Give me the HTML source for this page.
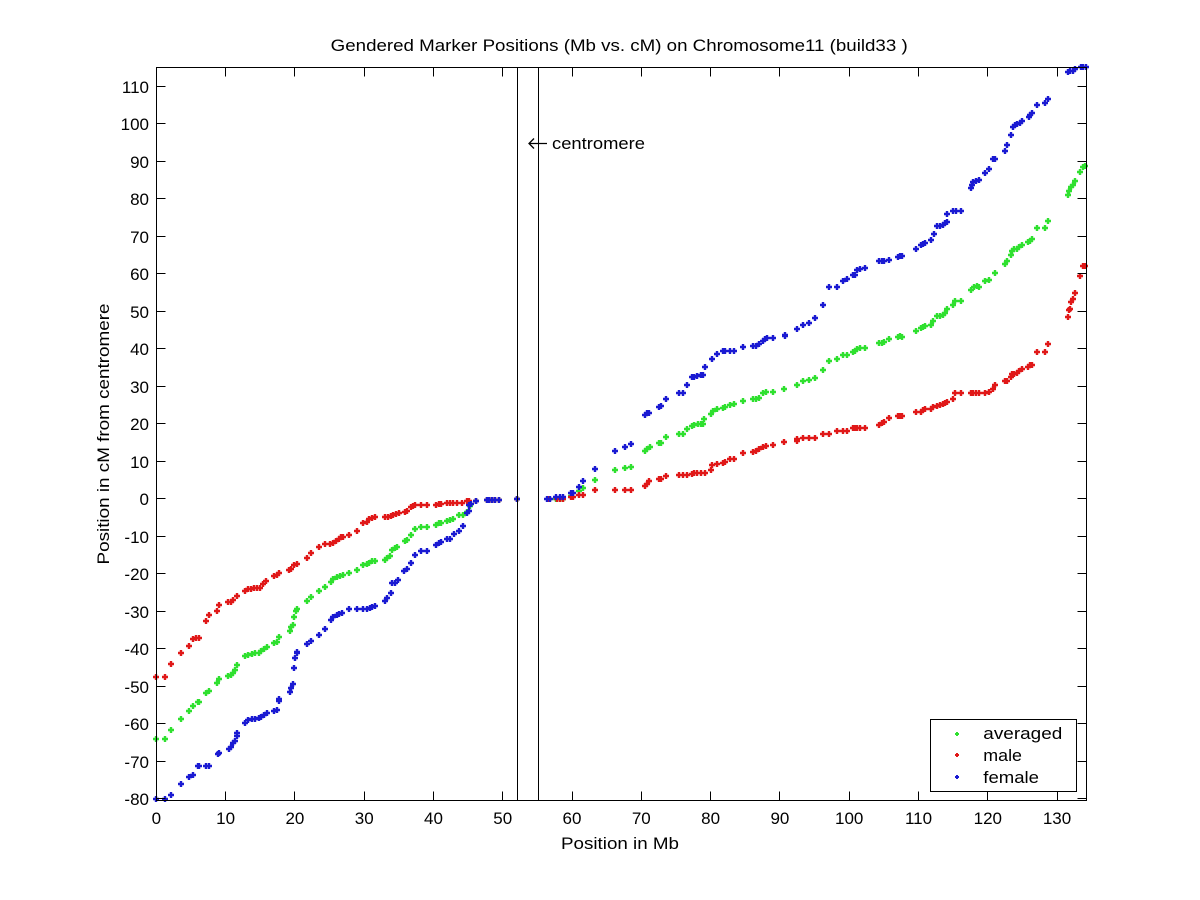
<!DOCTYPE html>
<html><head><meta charset="utf-8"><style>
html,body{margin:0;padding:0;background:#fff;}
svg{display:block;}
text{font-family:"Liberation Sans",Arial,sans-serif;fill:#000;}
</style></head><body>
<svg width="1200" height="900" viewBox="0 0 1200 900" xmlns="http://www.w3.org/2000/svg">
<rect width="1200" height="900" fill="#fff"/>
<text x="330.7" y="51" font-size="17" textLength="577" lengthAdjust="spacingAndGlyphs">Gendered Marker Positions (Mb vs. cM) on Chromosome11 (build33 )</text>

<!-- markers -->
<g fill="none" stroke-width="2.4">
<path stroke="#2fe02f" d="M156 739m-3 0h6m-3-3v6M165 739m-3 0h6m-3-3v6M171 730m-3 0h6m-3-3v6M181 719m-3 0h6m-3-3v6M189 711m-3 0h6m-3-3v6M193 706m-3 0h6m-3-3v6M198 702m-3 0h6m-3-3v6M199 702m-3 0h6m-3-3v6M206 693m-3 0h6m-3-3v6M209 691m-3 0h6m-3-3v6M217 683m-3 0h6m-3-3v6M219 679m-3 0h6m-3-3v6M228 676m-3 0h6m-3-3v6M231 675m-3 0h6m-3-3v6M233 673m-3 0h6m-3-3v6M235 670m-3 0h6m-3-3v6M237 665m-3 0h6m-3-3v6M245 656m-3 0h6m-3-3v6M248 655m-3 0h6m-3-3v6M252 654m-3 0h6m-3-3v6M255 653m-3 0h6m-3-3v6M259 653m-3 0h6m-3-3v6M261 651m-3 0h6m-3-3v6M264 649m-3 0h6m-3-3v6M267 647m-3 0h6m-3-3v6M274 643m-3 0h6m-3-3v6M277 642m-3 0h6m-3-3v6M279 637m-3 0h6m-3-3v6M290 631m-3 0h6m-3-3v6M291 627m-3 0h6m-3-3v6M293 625m-3 0h6m-3-3v6M294 617m-3 0h6m-3-3v6M296 611m-3 0h6m-3-3v6M297 609m-3 0h6m-3-3v6M307 601m-3 0h6m-3-3v6M311 597m-3 0h6m-3-3v6M319 591m-3 0h6m-3-3v6M325 587m-3 0h6m-3-3v6M331 582m-3 0h6m-3-3v6M333 579m-3 0h6m-3-3v6M337 577m-3 0h6m-3-3v6M340 576m-3 0h6m-3-3v6M343 575m-3 0h6m-3-3v6M349 573m-3 0h6m-3-3v6M357 570m-3 0h6m-3-3v6M363 565m-3 0h6m-3-3v6M367 564m-3 0h6m-3-3v6M369 563m-3 0h6m-3-3v6M372 561m-3 0h6m-3-3v6M375 561m-3 0h6m-3-3v6M385 560m-3 0h6m-3-3v6M387 558m-3 0h6m-3-3v6M390 556m-3 0h6m-3-3v6M392 550m-3 0h6m-3-3v6M395 548m-3 0h6m-3-3v6M397 547m-3 0h6m-3-3v6M405 541m-3 0h6m-3-3v6M407 540m-3 0h6m-3-3v6M411 535m-3 0h6m-3-3v6M415 529m-3 0h6m-3-3v6M421 527m-3 0h6m-3-3v6M427 527m-3 0h6m-3-3v6M436 525m-3 0h6m-3-3v6M439 523m-3 0h6m-3-3v6M441 523m-3 0h6m-3-3v6M447 521m-3 0h6m-3-3v6M450 520m-3 0h6m-3-3v6M453 519m-3 0h6m-3-3v6M459 515m-3 0h6m-3-3v6M463 515m-3 0h6m-3-3v6M467 512m-3 0h6m-3-3v6M470 506m-3 0h6m-3-3v6M476 501m-3 0h6m-3-3v6M487 500m-3 0h6m-3-3v6M492 500m-3 0h6m-3-3v6M499 500m-3 0h6m-3-3v6M517 499m-3 0h6m-3-3v6M549 499m-3 0h6m-3-3v6M556 499m-3 0h6m-3-3v6M560 499m-3 0h6m-3-3v6M563 499m-3 0h6m-3-3v6M571 496m-3 0h6m-3-3v6M579 491m-3 0h6m-3-3v6M583 488m-3 0h6m-3-3v6M595 480m-3 0h6m-3-3v6M615 470m-3 0h6m-3-3v6M625 468m-3 0h6m-3-3v6M631 467m-3 0h6m-3-3v6M645 451m-3 0h6m-3-3v6M647 449m-3 0h6m-3-3v6M650 447m-3 0h6m-3-3v6M659 443m-3 0h6m-3-3v6M661 443m-3 0h6m-3-3v6M666 437m-3 0h6m-3-3v6M679 434m-3 0h6m-3-3v6M683 434m-3 0h6m-3-3v6M687 429m-3 0h6m-3-3v6M692 426m-3 0h6m-3-3v6M694 425m-3 0h6m-3-3v6M698 424m-3 0h6m-3-3v6M701 424m-3 0h6m-3-3v6M703 424m-3 0h6m-3-3v6M704 419m-3 0h6m-3-3v6M711 414m-3 0h6m-3-3v6M713 411m-3 0h6m-3-3v6M717 409m-3 0h6m-3-3v6M723 408m-3 0h6m-3-3v6M725 407m-3 0h6m-3-3v6M730 405m-3 0h6m-3-3v6M734 404m-3 0h6m-3-3v6M743 401m-3 0h6m-3-3v6M753 399m-3 0h6m-3-3v6M756 399m-3 0h6m-3-3v6M759 398m-3 0h6m-3-3v6M763 393m-3 0h6m-3-3v6M766 392m-3 0h6m-3-3v6M773 392m-3 0h6m-3-3v6M784 389m-3 0h6m-3-3v6M797 385m-3 0h6m-3-3v6M803 381m-3 0h6m-3-3v6M809 380m-3 0h6m-3-3v6M815 378m-3 0h6m-3-3v6M823 370m-3 0h6m-3-3v6M829 361m-3 0h6m-3-3v6M837 359m-3 0h6m-3-3v6M843 355m-3 0h6m-3-3v6M847 355m-3 0h6m-3-3v6M853 352m-3 0h6m-3-3v6M855 351m-3 0h6m-3-3v6M857 349m-3 0h6m-3-3v6M860 348m-3 0h6m-3-3v6M865 348m-3 0h6m-3-3v6M879 343m-3 0h6m-3-3v6M882 343m-3 0h6m-3-3v6M884 342m-3 0h6m-3-3v6M889 339m-3 0h6m-3-3v6M898 337m-3 0h6m-3-3v6M900 336m-3 0h6m-3-3v6M902 337m-3 0h6m-3-3v6M916 331m-3 0h6m-3-3v6M921 328m-3 0h6m-3-3v6M923 327m-3 0h6m-3-3v6M925 326m-3 0h6m-3-3v6M931 325m-3 0h6m-3-3v6M933 321m-3 0h6m-3-3v6M937 316m-3 0h6m-3-3v6M940 316m-3 0h6m-3-3v6M943 315m-3 0h6m-3-3v6M945 313m-3 0h6m-3-3v6M947 309m-3 0h6m-3-3v6M953 305m-3 0h6m-3-3v6M955 301m-3 0h6m-3-3v6M961 301m-3 0h6m-3-3v6M971 290m-3 0h6m-3-3v6M974 287m-3 0h6m-3-3v6M977 286m-3 0h6m-3-3v6M979 287m-3 0h6m-3-3v6M985 281m-3 0h6m-3-3v6M989 280m-3 0h6m-3-3v6M995 273m-3 0h6m-3-3v6M1005 264m-3 0h6m-3-3v6M1007 261m-3 0h6m-3-3v6M1011 255m-3 0h6m-3-3v6M1012 251m-3 0h6m-3-3v6M1014 249m-3 0h6m-3-3v6M1017 249m-3 0h6m-3-3v6M1019 247m-3 0h6m-3-3v6M1022 245m-3 0h6m-3-3v6M1028 242m-3 0h6m-3-3v6M1030 241m-3 0h6m-3-3v6M1032 239m-3 0h6m-3-3v6M1037 228m-3 0h6m-3-3v6M1045 228m-3 0h6m-3-3v6M1048 221m-3 0h6m-3-3v6M1068 195m-3 0h6m-3-3v6M1069 191m-3 0h6m-3-3v6M1071 187m-3 0h6m-3-3v6M1073 185m-3 0h6m-3-3v6M1075 181m-3 0h6m-3-3v6M1080 172m-3 0h6m-3-3v6M1083 167m-3 0h6m-3-3v6M1085 166m-3 0h6m-3-3v6"/>
<path stroke="#e01818" d="M156 677m-3 0h6m-3-3v6M165 677m-3 0h6m-3-3v6M171 664m-3 0h6m-3-3v6M181 653m-3 0h6m-3-3v6M189 646m-3 0h6m-3-3v6M193 639m-3 0h6m-3-3v6M196 638m-3 0h6m-3-3v6M199 638m-3 0h6m-3-3v6M206 621m-3 0h6m-3-3v6M209 615m-3 0h6m-3-3v6M217 611m-3 0h6m-3-3v6M219 605m-3 0h6m-3-3v6M228 602m-3 0h6m-3-3v6M231 602m-3 0h6m-3-3v6M233 600m-3 0h6m-3-3v6M237 596m-3 0h6m-3-3v6M245 591m-3 0h6m-3-3v6M248 589m-3 0h6m-3-3v6M251 589m-3 0h6m-3-3v6M254 588m-3 0h6m-3-3v6M257 588m-3 0h6m-3-3v6M260 588m-3 0h6m-3-3v6M263 584m-3 0h6m-3-3v6M266 581m-3 0h6m-3-3v6M274 576m-3 0h6m-3-3v6M277 575m-3 0h6m-3-3v6M279 573m-3 0h6m-3-3v6M289 570m-3 0h6m-3-3v6M291 569m-3 0h6m-3-3v6M294 565m-3 0h6m-3-3v6M297 564m-3 0h6m-3-3v6M307 558m-3 0h6m-3-3v6M311 553m-3 0h6m-3-3v6M319 547m-3 0h6m-3-3v6M325 544m-3 0h6m-3-3v6M330 544m-3 0h6m-3-3v6M333 543m-3 0h6m-3-3v6M336 541m-3 0h6m-3-3v6M339 539m-3 0h6m-3-3v6M341 537m-3 0h6m-3-3v6M343 537m-3 0h6m-3-3v6M349 535m-3 0h6m-3-3v6M357 531m-3 0h6m-3-3v6M363 523m-3 0h6m-3-3v6M367 522m-3 0h6m-3-3v6M369 519m-3 0h6m-3-3v6M372 518m-3 0h6m-3-3v6M375 517m-3 0h6m-3-3v6M385 517m-3 0h6m-3-3v6M388 517m-3 0h6m-3-3v6M391 516m-3 0h6m-3-3v6M393 515m-3 0h6m-3-3v6M396 514m-3 0h6m-3-3v6M399 513m-3 0h6m-3-3v6M405 512m-3 0h6m-3-3v6M407 511m-3 0h6m-3-3v6M411 507m-3 0h6m-3-3v6M413 506m-3 0h6m-3-3v6M415 505m-3 0h6m-3-3v6M421 505m-3 0h6m-3-3v6M427 505m-3 0h6m-3-3v6M436 505m-3 0h6m-3-3v6M439 504m-3 0h6m-3-3v6M441 504m-3 0h6m-3-3v6M447 503m-3 0h6m-3-3v6M450 503m-3 0h6m-3-3v6M453 503m-3 0h6m-3-3v6M457 503m-3 0h6m-3-3v6M462 503m-3 0h6m-3-3v6M467 501m-3 0h6m-3-3v6M469 501m-3 0h6m-3-3v6M476 501m-3 0h6m-3-3v6M487 500m-3 0h6m-3-3v6M489 500m-3 0h6m-3-3v6M492 500m-3 0h6m-3-3v6M495 500m-3 0h6m-3-3v6M499 500m-3 0h6m-3-3v6M517 499m-3 0h6m-3-3v6M549 499m-3 0h6m-3-3v6M557 499m-3 0h6m-3-3v6M560 499m-3 0h6m-3-3v6M563 499m-3 0h6m-3-3v6M571 497m-3 0h6m-3-3v6M573 497m-3 0h6m-3-3v6M579 495m-3 0h6m-3-3v6M583 495m-3 0h6m-3-3v6M595 490m-3 0h6m-3-3v6M615 490m-3 0h6m-3-3v6M625 490m-3 0h6m-3-3v6M631 490m-3 0h6m-3-3v6M645 486m-3 0h6m-3-3v6M647 484m-3 0h6m-3-3v6M649 481m-3 0h6m-3-3v6M659 479m-3 0h6m-3-3v6M661 479m-3 0h6m-3-3v6M666 476m-3 0h6m-3-3v6M679 475m-3 0h6m-3-3v6M683 475m-3 0h6m-3-3v6M687 475m-3 0h6m-3-3v6M692 474m-3 0h6m-3-3v6M694 473m-3 0h6m-3-3v6M697 473m-3 0h6m-3-3v6M701 473m-3 0h6m-3-3v6M705 473m-3 0h6m-3-3v6M711 470m-3 0h6m-3-3v6M712 465m-3 0h6m-3-3v6M717 464m-3 0h6m-3-3v6M723 463m-3 0h6m-3-3v6M725 462m-3 0h6m-3-3v6M730 459m-3 0h6m-3-3v6M734 459m-3 0h6m-3-3v6M743 453m-3 0h6m-3-3v6M753 452m-3 0h6m-3-3v6M756 451m-3 0h6m-3-3v6M759 449m-3 0h6m-3-3v6M763 447m-3 0h6m-3-3v6M766 446m-3 0h6m-3-3v6M773 445m-3 0h6m-3-3v6M784 442m-3 0h6m-3-3v6M797 441m-3 0h6m-3-3v6M797 439m-3 0h6m-3-3v6M803 438m-3 0h6m-3-3v6M809 438m-3 0h6m-3-3v6M815 438m-3 0h6m-3-3v6M823 434m-3 0h6m-3-3v6M829 434m-3 0h6m-3-3v6M837 431m-3 0h6m-3-3v6M843 431m-3 0h6m-3-3v6M847 431m-3 0h6m-3-3v6M853 428m-3 0h6m-3-3v6M855 428m-3 0h6m-3-3v6M857 428m-3 0h6m-3-3v6M860 428m-3 0h6m-3-3v6M865 428m-3 0h6m-3-3v6M879 425m-3 0h6m-3-3v6M882 423m-3 0h6m-3-3v6M884 422m-3 0h6m-3-3v6M889 418m-3 0h6m-3-3v6M898 416m-3 0h6m-3-3v6M900 416m-3 0h6m-3-3v6M902 416m-3 0h6m-3-3v6M916 412m-3 0h6m-3-3v6M921 412m-3 0h6m-3-3v6M923 410m-3 0h6m-3-3v6M925 409m-3 0h6m-3-3v6M931 409m-3 0h6m-3-3v6M933 407m-3 0h6m-3-3v6M937 406m-3 0h6m-3-3v6M940 405m-3 0h6m-3-3v6M943 404m-3 0h6m-3-3v6M945 403m-3 0h6m-3-3v6M947 402m-3 0h6m-3-3v6M953 399m-3 0h6m-3-3v6M955 393m-3 0h6m-3-3v6M961 393m-3 0h6m-3-3v6M971 393m-3 0h6m-3-3v6M973 393m-3 0h6m-3-3v6M976 393m-3 0h6m-3-3v6M979 393m-3 0h6m-3-3v6M985 393m-3 0h6m-3-3v6M989 392m-3 0h6m-3-3v6M993 389m-3 0h6m-3-3v6M995 385m-3 0h6m-3-3v6M1005 381m-3 0h6m-3-3v6M1007 381m-3 0h6m-3-3v6M1011 377m-3 0h6m-3-3v6M1012 374m-3 0h6m-3-3v6M1014 374m-3 0h6m-3-3v6M1017 373m-3 0h6m-3-3v6M1019 371m-3 0h6m-3-3v6M1022 369m-3 0h6m-3-3v6M1028 367m-3 0h6m-3-3v6M1030 365m-3 0h6m-3-3v6M1032 365m-3 0h6m-3-3v6M1037 352m-3 0h6m-3-3v6M1045 352m-3 0h6m-3-3v6M1048 344m-3 0h6m-3-3v6M1068 317m-3 0h6m-3-3v6M1069 310m-3 0h6m-3-3v6M1070 309m-3 0h6m-3-3v6M1071 302m-3 0h6m-3-3v6M1073 299m-3 0h6m-3-3v6M1075 293m-3 0h6m-3-3v6M1080 276m-3 0h6m-3-3v6M1083 266m-3 0h6m-3-3v6M1085 266m-3 0h6m-3-3v6"/>
<path stroke="#1a1ad2" d="M156 799m-3 0h6m-3-3v6M165 799m-3 0h6m-3-3v6M171 795m-3 0h6m-3-3v6M181 784m-3 0h6m-3-3v6M189 777m-3 0h6m-3-3v6M193 775m-3 0h6m-3-3v6M198 766m-3 0h6m-3-3v6M199 766m-3 0h6m-3-3v6M206 766m-3 0h6m-3-3v6M209 766m-3 0h6m-3-3v6M218 754m-3 0h6m-3-3v6M219 753m-3 0h6m-3-3v6M229 749m-3 0h6m-3-3v6M231 747m-3 0h6m-3-3v6M233 743m-3 0h6m-3-3v6M235 741m-3 0h6m-3-3v6M237 736m-3 0h6m-3-3v6M237 733m-3 0h6m-3-3v6M245 723m-3 0h6m-3-3v6M248 720m-3 0h6m-3-3v6M252 719m-3 0h6m-3-3v6M255 719m-3 0h6m-3-3v6M259 718m-3 0h6m-3-3v6M261 717m-3 0h6m-3-3v6M264 715m-3 0h6m-3-3v6M267 713m-3 0h6m-3-3v6M274 711m-3 0h6m-3-3v6M277 710m-3 0h6m-3-3v6M279 701m-3 0h6m-3-3v6M279 699m-3 0h6m-3-3v6M290 692m-3 0h6m-3-3v6M291 688m-3 0h6m-3-3v6M293 684m-3 0h6m-3-3v6M294 668m-3 0h6m-3-3v6M295 658m-3 0h6m-3-3v6M297 653m-3 0h6m-3-3v6M297 652m-3 0h6m-3-3v6M307 644m-3 0h6m-3-3v6M311 641m-3 0h6m-3-3v6M319 635m-3 0h6m-3-3v6M325 629m-3 0h6m-3-3v6M331 620m-3 0h6m-3-3v6M333 617m-3 0h6m-3-3v6M337 615m-3 0h6m-3-3v6M339 614m-3 0h6m-3-3v6M342 613m-3 0h6m-3-3v6M349 609m-3 0h6m-3-3v6M357 609m-3 0h6m-3-3v6M363 609m-3 0h6m-3-3v6M367 609m-3 0h6m-3-3v6M370 608m-3 0h6m-3-3v6M372 607m-3 0h6m-3-3v6M375 606m-3 0h6m-3-3v6M385 601m-3 0h6m-3-3v6M387 598m-3 0h6m-3-3v6M391 593m-3 0h6m-3-3v6M392 583m-3 0h6m-3-3v6M395 583m-3 0h6m-3-3v6M398 580m-3 0h6m-3-3v6M404 571m-3 0h6m-3-3v6M407 569m-3 0h6m-3-3v6M411 563m-3 0h6m-3-3v6M415 555m-3 0h6m-3-3v6M421 551m-3 0h6m-3-3v6M427 551m-3 0h6m-3-3v6M436 545m-3 0h6m-3-3v6M439 543m-3 0h6m-3-3v6M441 542m-3 0h6m-3-3v6M447 539m-3 0h6m-3-3v6M450 539m-3 0h6m-3-3v6M454 534m-3 0h6m-3-3v6M459 531m-3 0h6m-3-3v6M463 526m-3 0h6m-3-3v6M467 513m-3 0h6m-3-3v6M469 511m-3 0h6m-3-3v6M469 505m-3 0h6m-3-3v6M471 504m-3 0h6m-3-3v6M476 501m-3 0h6m-3-3v6M487 500m-3 0h6m-3-3v6M489 500m-3 0h6m-3-3v6M492 500m-3 0h6m-3-3v6M495 500m-3 0h6m-3-3v6M499 500m-3 0h6m-3-3v6M517 499m-3 0h6m-3-3v6M547 499m-3 0h6m-3-3v6M550 499m-3 0h6m-3-3v6M556 497m-3 0h6m-3-3v6M560 497m-3 0h6m-3-3v6M563 497m-3 0h6m-3-3v6M571 493m-3 0h6m-3-3v6M573 493m-3 0h6m-3-3v6M579 487m-3 0h6m-3-3v6M583 481m-3 0h6m-3-3v6M595 469m-3 0h6m-3-3v6M615 451m-3 0h6m-3-3v6M625 447m-3 0h6m-3-3v6M631 444m-3 0h6m-3-3v6M645 415m-3 0h6m-3-3v6M647 413m-3 0h6m-3-3v6M649 413m-3 0h6m-3-3v6M659 407m-3 0h6m-3-3v6M661 406m-3 0h6m-3-3v6M666 399m-3 0h6m-3-3v6M679 393m-3 0h6m-3-3v6M683 393m-3 0h6m-3-3v6M687 385m-3 0h6m-3-3v6M692 377m-3 0h6m-3-3v6M694 377m-3 0h6m-3-3v6M697 376m-3 0h6m-3-3v6M701 375m-3 0h6m-3-3v6M703 375m-3 0h6m-3-3v6M705 367m-3 0h6m-3-3v6M712 359m-3 0h6m-3-3v6M717 354m-3 0h6m-3-3v6M723 351m-3 0h6m-3-3v6M725 351m-3 0h6m-3-3v6M730 351m-3 0h6m-3-3v6M734 351m-3 0h6m-3-3v6M743 347m-3 0h6m-3-3v6M753 346m-3 0h6m-3-3v6M756 346m-3 0h6m-3-3v6M759 344m-3 0h6m-3-3v6M763 341m-3 0h6m-3-3v6M765 339m-3 0h6m-3-3v6M767 338m-3 0h6m-3-3v6M773 338m-3 0h6m-3-3v6M785 336m-3 0h6m-3-3v6M785 335m-3 0h6m-3-3v6M797 329m-3 0h6m-3-3v6M803 325m-3 0h6m-3-3v6M809 323m-3 0h6m-3-3v6M815 318m-3 0h6m-3-3v6M823 305m-3 0h6m-3-3v6M829 287m-3 0h6m-3-3v6M837 287m-3 0h6m-3-3v6M843 281m-3 0h6m-3-3v6M847 279m-3 0h6m-3-3v6M853 275m-3 0h6m-3-3v6M855 275m-3 0h6m-3-3v6M857 270m-3 0h6m-3-3v6M860 269m-3 0h6m-3-3v6M865 268m-3 0h6m-3-3v6M879 261m-3 0h6m-3-3v6M882 261m-3 0h6m-3-3v6M884 261m-3 0h6m-3-3v6M889 260m-3 0h6m-3-3v6M898 257m-3 0h6m-3-3v6M900 256m-3 0h6m-3-3v6M902 256m-3 0h6m-3-3v6M916 249m-3 0h6m-3-3v6M921 245m-3 0h6m-3-3v6M923 244m-3 0h6m-3-3v6M925 243m-3 0h6m-3-3v6M931 240m-3 0h6m-3-3v6M934 234m-3 0h6m-3-3v6M937 226m-3 0h6m-3-3v6M940 226m-3 0h6m-3-3v6M943 225m-3 0h6m-3-3v6M945 223m-3 0h6m-3-3v6M947 222m-3 0h6m-3-3v6M947 214m-3 0h6m-3-3v6M953 211m-3 0h6m-3-3v6M956 211m-3 0h6m-3-3v6M961 211m-3 0h6m-3-3v6M971 188m-3 0h6m-3-3v6M972 185m-3 0h6m-3-3v6M973 182m-3 0h6m-3-3v6M976 181m-3 0h6m-3-3v6M979 180m-3 0h6m-3-3v6M985 173m-3 0h6m-3-3v6M989 169m-3 0h6m-3-3v6M993 159m-3 0h6m-3-3v6M995 159m-3 0h6m-3-3v6M1005 151m-3 0h6m-3-3v6M1007 145m-3 0h6m-3-3v6M1011 135m-3 0h6m-3-3v6M1013 127m-3 0h6m-3-3v6M1015 125m-3 0h6m-3-3v6M1017 124m-3 0h6m-3-3v6M1020 123m-3 0h6m-3-3v6M1022 121m-3 0h6m-3-3v6M1029 117m-3 0h6m-3-3v6M1030 115m-3 0h6m-3-3v6M1032 113m-3 0h6m-3-3v6M1037 105m-3 0h6m-3-3v6M1045 103m-3 0h6m-3-3v6M1048 99m-3 0h6m-3-3v6M1068 72m-3 0h6m-3-3v6M1070 71m-3 0h6m-3-3v6M1073 71m-3 0h6m-3-3v6M1075 69m-3 0h6m-3-3v6M1081 67m-3 0h6m-3-3v6M1083 67m-3 0h6m-3-3v6M1086 67m-3 0h6m-3-3v6"/>
</g>

<!-- axes box -->
<rect x="156.5" y="67.5" width="930" height="733" fill="none" stroke="#000" stroke-width="1"/>
<!-- centromere lines -->
<path d="M517.5 67.5V800.5M538.5 67.5V800.5" stroke="#000" stroke-width="1"/>

<!-- ticks -->
<path stroke="#000" stroke-width="1" fill="none" d="
M156.5 800.5v-9M225.5 800.5v-9M294.5 800.5v-9M364.5 800.5v-9M433.5 800.5v-9M502.5 800.5v-9M572.5 800.5v-9M641.5 800.5v-9M710.5 800.5v-9M779.5 800.5v-9M849.5 800.5v-9M918.5 800.5v-9M987.5 800.5v-9M1057.5 800.5v-9
M156.5 67.5v9M225.5 67.5v9M294.5 67.5v9M364.5 67.5v9M433.5 67.5v9M502.5 67.5v9M572.5 67.5v9M641.5 67.5v9M710.5 67.5v9M779.5 67.5v9M849.5 67.5v9M918.5 67.5v9M987.5 67.5v9M1057.5 67.5v9
M156.5 798.5h9M156.5 761.5h9M156.5 723.5h9M156.5 686.5h9M156.5 648.5h9M156.5 611.5h9M156.5 573.5h9M156.5 536.5h9M156.5 498.5h9M156.5 461.5h9M156.5 423.5h9M156.5 386.5h9M156.5 348.5h9M156.5 311.5h9M156.5 273.5h9M156.5 236.5h9M156.5 198.5h9M156.5 161.5h9M156.5 123.5h9M156.5 86.5h9
M1086.5 798.5h-9M1086.5 761.5h-9M1086.5 723.5h-9M1086.5 686.5h-9M1086.5 648.5h-9M1086.5 611.5h-9M1086.5 573.5h-9M1086.5 536.5h-9M1086.5 498.5h-9M1086.5 461.5h-9M1086.5 423.5h-9M1086.5 386.5h-9M1086.5 348.5h-9M1086.5 311.5h-9M1086.5 273.5h-9M1086.5 236.5h-9M1086.5 198.5h-9M1086.5 161.5h-9M1086.5 123.5h-9M1086.5 86.5h-9"/>

<!-- y tick labels -->
<g font-size="17" text-anchor="end">
<text x="149" y="805">-80</text>
<text x="149" y="768">-70</text>
<text x="149" y="730">-60</text>
<text x="149" y="693">-50</text>
<text x="149" y="655">-40</text>
<text x="149" y="618">-30</text>
<text x="149" y="580">-20</text>
<text x="149" y="543">-10</text>
<text x="149" y="505">0</text>
<text x="149" y="468">10</text>
<text x="149" y="430">20</text>
<text x="149" y="393">30</text>
<text x="149" y="355">40</text>
<text x="149" y="318">50</text>
<text x="149" y="280">60</text>
<text x="149" y="243">70</text>
<text x="149" y="205">80</text>
<text x="149" y="168">90</text>
<text x="149" y="130">100</text>
<text x="149" y="93">110</text>
</g>
<!-- x tick labels -->
<g font-size="17" text-anchor="middle">
<text x="156.3" y="824">0</text>
<text x="225.6" y="824">10</text>
<text x="294.9" y="824">20</text>
<text x="364.2" y="824">30</text>
<text x="433.5" y="824">40</text>
<text x="502.7" y="824">50</text>
<text x="572" y="824">60</text>
<text x="641.3" y="824">70</text>
<text x="710.6" y="824">80</text>
<text x="779.9" y="824">90</text>
<text x="849.2" y="824">100</text>
<text x="918.5" y="824">110</text>
<text x="987.8" y="824">120</text>
<text x="1057" y="824">130</text>
</g>

<text x="620" y="849" font-size="17" text-anchor="middle" textLength="118" lengthAdjust="spacingAndGlyphs">Position in Mb</text>
<text transform="translate(109,434) rotate(-90)" font-size="17" text-anchor="middle" textLength="261" lengthAdjust="spacingAndGlyphs">Position in cM from centromere</text>

<!-- centromere label -->
<path d="M529 143.5H547M534 138.5L529 143.5L534 148.5" stroke="#000" stroke-width="1.3" fill="none"/>
<text x="552" y="149" font-size="17" textLength="93" lengthAdjust="spacingAndGlyphs">centromere</text>

<!-- legend -->
<rect x="930.5" y="719.5" width="146" height="72" fill="#fff" stroke="#000" stroke-width="1"/>
<g fill="none" stroke-width="2">
<path stroke="#2fe02f" d="M957 734m-2 0h4m-2-2v4"/>
<path stroke="#e01818" d="M957 755m-2 0h4m-2-2v4"/>
<path stroke="#1a1ad2" d="M957 777m-2 0h4m-2-2v4"/>
</g>
<g font-size="17">
<text x="983.3" y="739" textLength="79" lengthAdjust="spacingAndGlyphs">averaged</text>
<text x="983.3" y="761" textLength="38.7" lengthAdjust="spacingAndGlyphs">male</text>
<text x="983.3" y="783" textLength="55.7" lengthAdjust="spacingAndGlyphs">female</text>
</g>
</svg>
</body></html>
